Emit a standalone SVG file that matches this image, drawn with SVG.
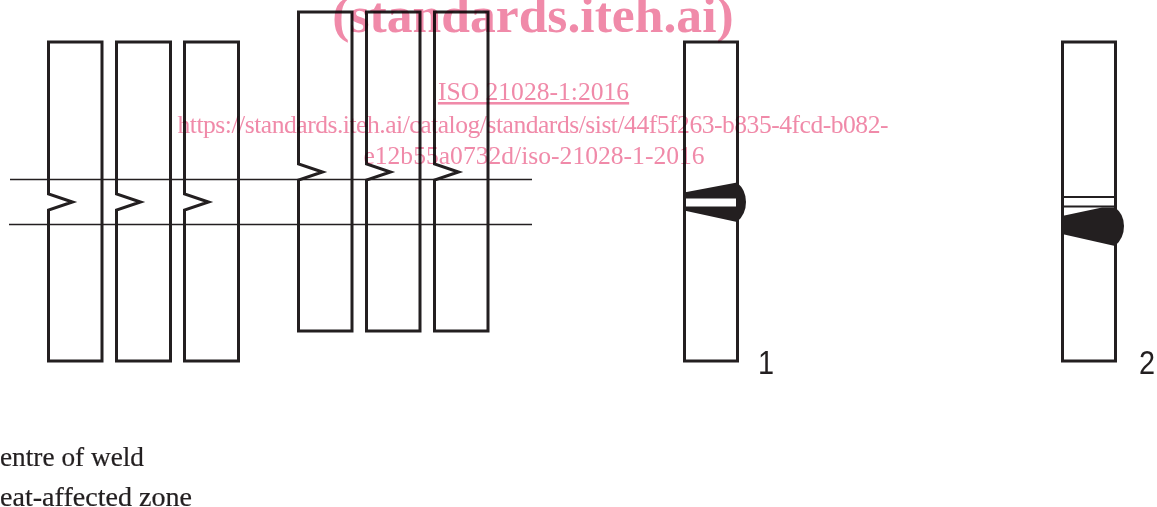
<svg xmlns="http://www.w3.org/2000/svg" width="1157" height="507" viewBox="0 0 1157 507">
<style>
.s{fill:none;stroke:#231f20;stroke-width:3;stroke-miterlimit:10}
.h{fill:none;stroke:#231f20;stroke-width:1.4}
.w{fill:#231f20}
.k{font-family:"Liberation Serif",serif;font-size:27px;fill:#231f20;stroke:#231f20;stroke-width:.2}
.n{font-family:"Liberation Sans",sans-serif;font-size:34px;fill:#231f20}
.m{font-family:"Liberation Serif",serif;fill:#f08aa9;mix-blend-mode:multiply;text-anchor:middle}
</style>
<rect width="1157" height="507" fill="#fff"/>
<g id="connectors">
<path class="h" d="M10 179.500H532M9 224.500H532"/>
</g>
<g id="bar-a1"><path class="s" d="M48.500 42H102V361H48.500V210L72.500 202L48.500 194Z"/></g>
<g id="bar-a2"><path class="s" d="M116.500 42H170.500V361H116.500V210L140.500 202L116.500 194Z"/></g>
<g id="bar-a3"><path class="s" d="M184.500 42H238.500V361H184.500V210L208.500 202L184.500 194Z"/></g>
<g id="bar-b1"><path class="s" d="M298.500 12H352V331H298.500V180L322.500 172L298.500 164Z"/></g>
<g id="bar-b2"><path class="s" d="M366.500 12H420V331H366.500V180L390.500 172L366.500 164Z"/></g>
<g id="bar-b3"><path class="s" d="M434.500 12H488V331H434.500V180L458.500 172L434.500 164Z"/></g>
<g id="specimen-1">
<rect class="s" x="684.500" y="42" width="53" height="319"/>
<path class="w" d="M684 192.500L737 182.500Q746 190 746 202Q746 214 737 222L684 210.500Z"/>
<rect x="686" y="198.500" width="50" height="8" fill="#fff"/>
<text class="n" transform="translate(758 374) scale(.85 1)">1</text>
</g>
<g id="specimen-2">
<rect class="s" x="1062.500" y="42" width="53" height="319"/>
<path class="s" style="stroke-width:2" d="M1062 197H1115M1062 206.500H1115"/>
<path class="w" d="M1062 216L1102 207.500H1115Q1124 214 1124 226Q1124 238 1115 246L1062 234Z"/>
<text class="n" transform="translate(1139 374) scale(.85 1)">2</text>
</g>
<g id="key">
<text class="k" x="0" y="466" textLength="144" lengthAdjust="spacingAndGlyphs">entre of weld</text>
<text class="k" x="0" y="505.500" textLength="192" lengthAdjust="spacingAndGlyphs">eat-affected zone</text>
</g>
<g id="watermark">
<text class="m" x="533" y="31.500" font-size="51.600" font-weight="bold">(standards.iteh.ai)</text>
<text class="m" x="533.500" y="100" font-size="25.600" text-decoration="underline">ISO 21028-1:2016</text>
<text class="m" x="533" y="133" font-size="25.600" textLength="711">https://standards.iteh.ai/catalog/standards/sist/44f5f263-b835-4fcd-b082-</text>
<text class="m" x="534" y="164" font-size="25.600">e12b55a0732d/iso-21028-1-2016</text>
</g>
</svg>
